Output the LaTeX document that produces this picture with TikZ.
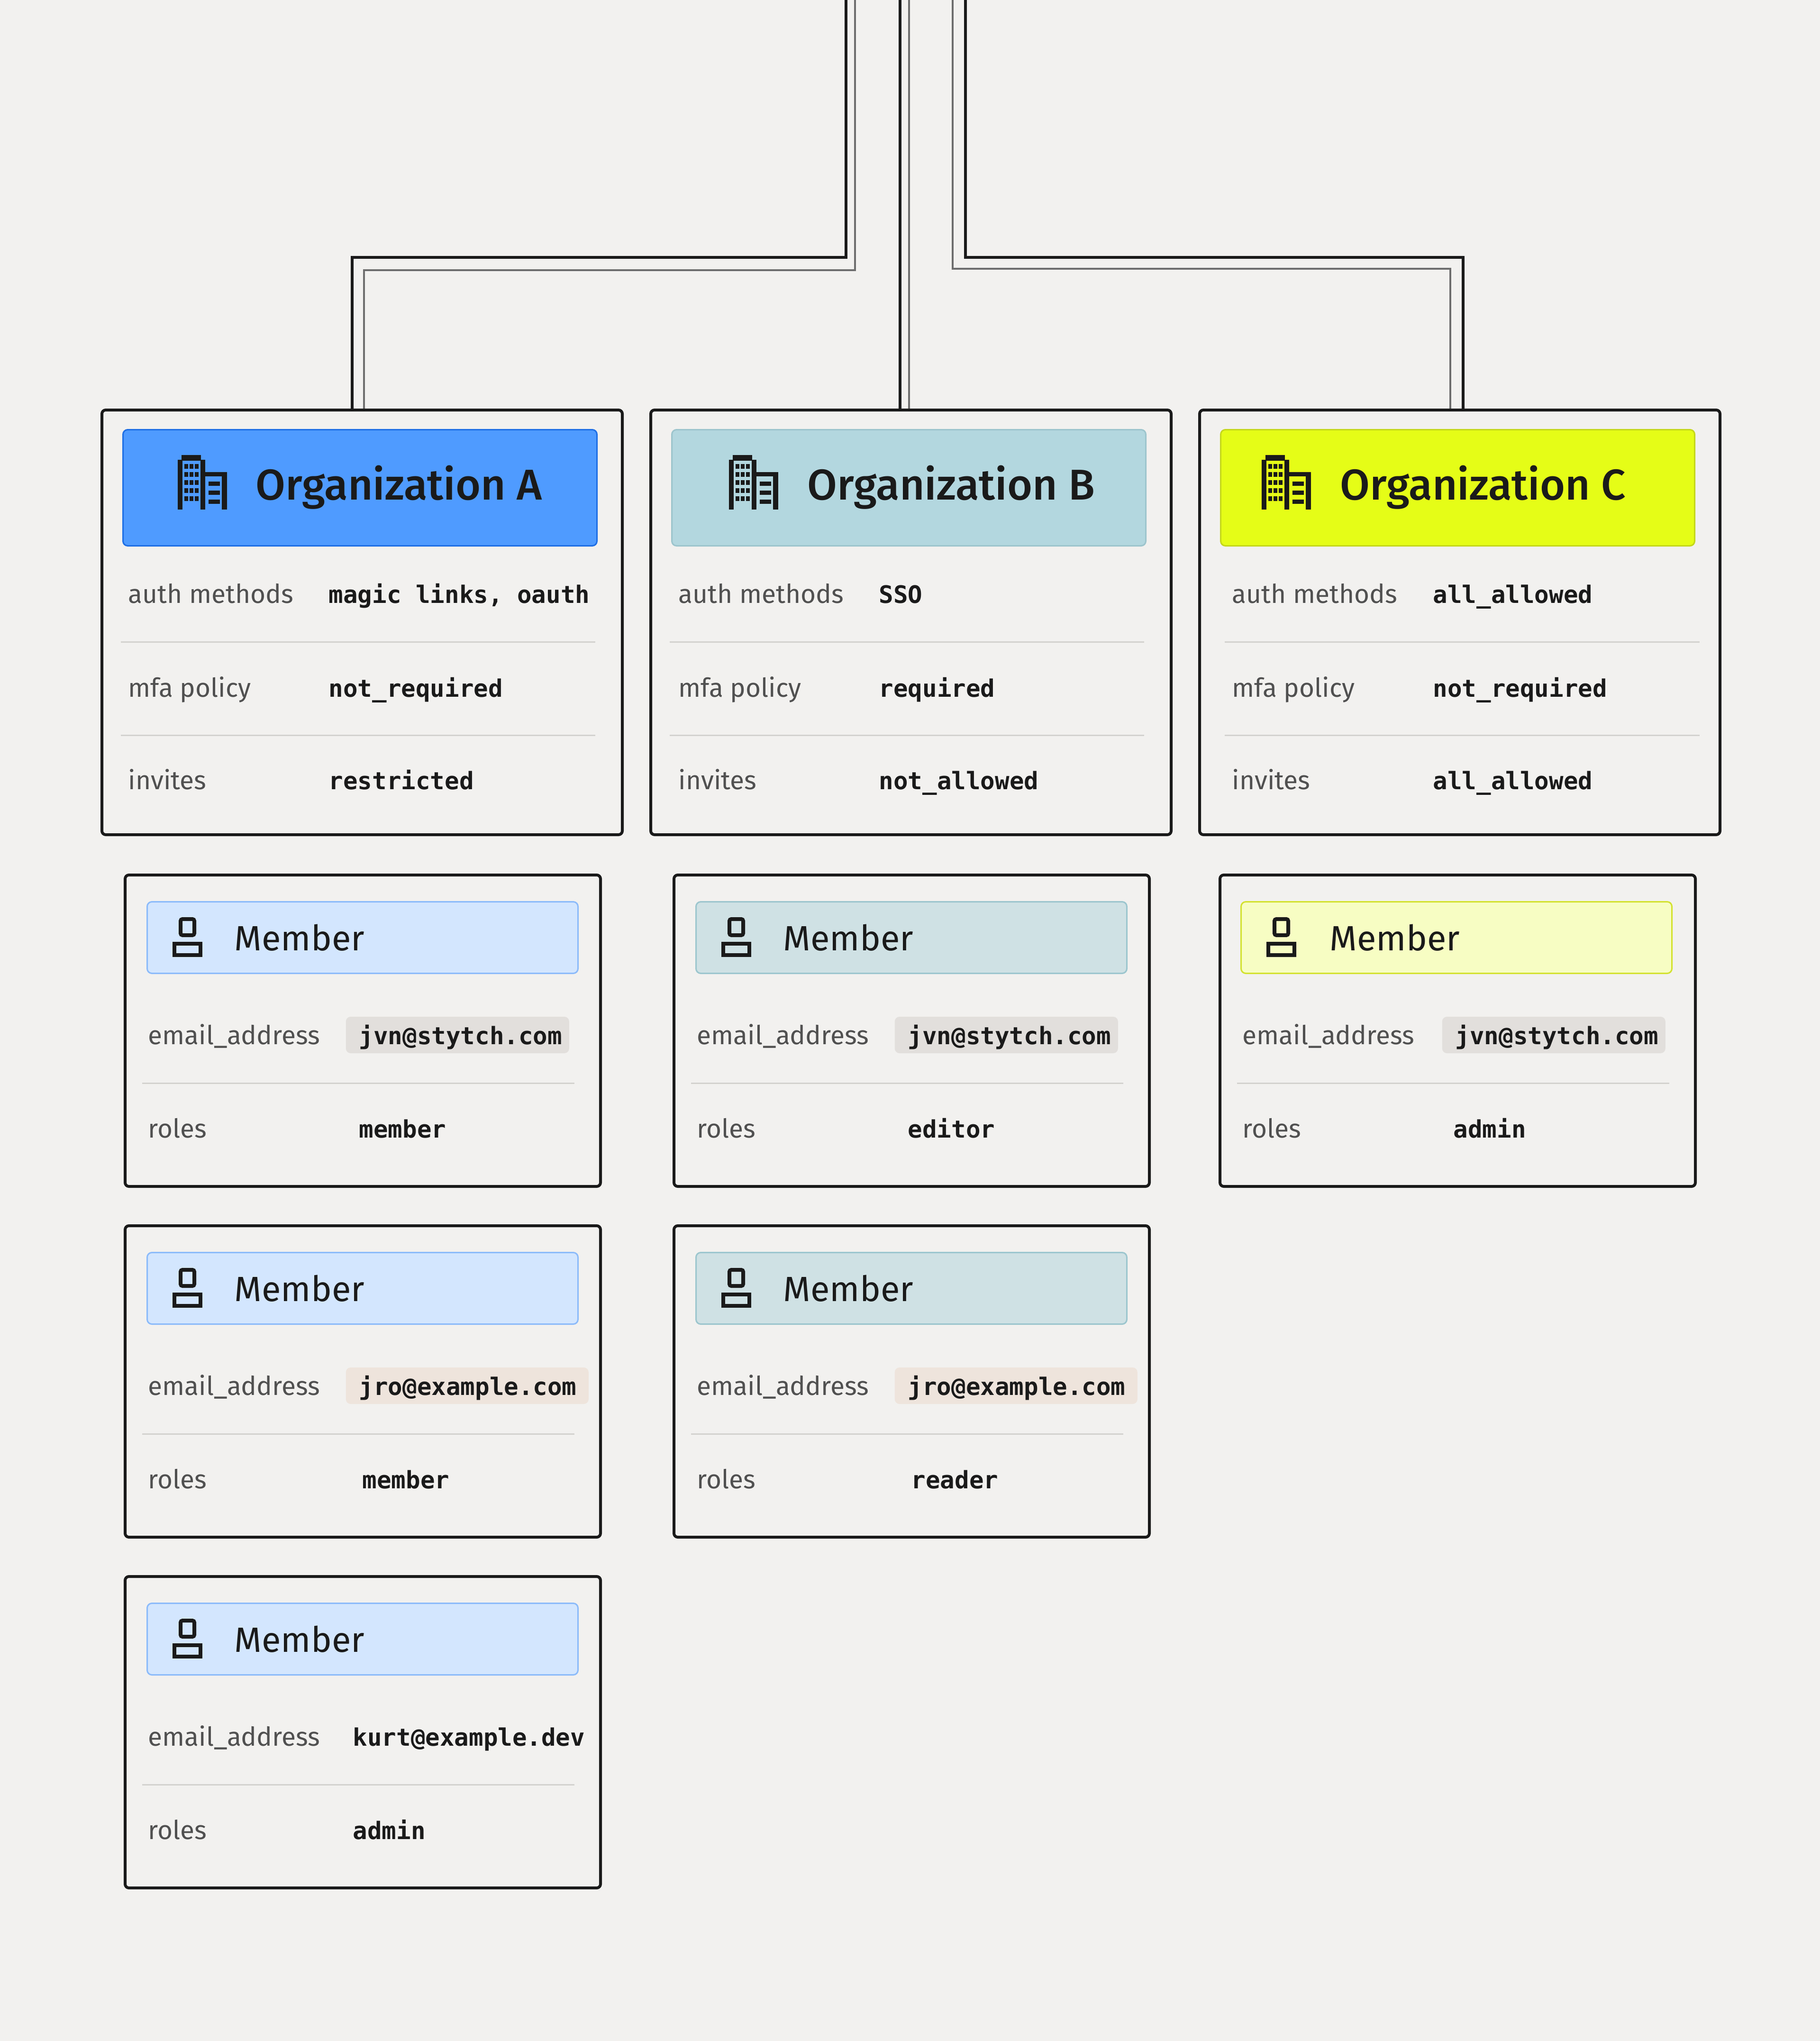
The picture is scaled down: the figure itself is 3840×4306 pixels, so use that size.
\documentclass[tikz,border=0pt]{standalone}
\usepackage{fontspec}
\setmainfont{Fira Sans}
\setmonofont{DejaVu Sans Mono}
\newfontfamily\headfont{Fira Sans Medium}
\usetikzlibrary{calc}

\definecolor{canvas}{HTML}{F2F1EF}
\definecolor{ink}{HTML}{1A1A1A}
\definecolor{keygray}{HTML}{505050}
\definecolor{rulegray}{HTML}{D3D2CF}
\definecolor{wiregray}{HTML}{6E6E6E}
\definecolor{orgblue}{HTML}{4F9BFF}
\definecolor{orgblueline}{HTML}{1F6FE5}
\definecolor{orgteal}{HTML}{B3D7DF}
\definecolor{orgtealline}{HTML}{9DC5CD}
\definecolor{orglime}{HTML}{E5FD17}
\definecolor{orglimeline}{HTML}{C5D81A}
\definecolor{memblue}{HTML}{D3E6FE}
\definecolor{memblueline}{HTML}{8CBBFA}
\definecolor{memteal}{HTML}{CFE1E4}
\definecolor{memtealline}{HTML}{9CC6CE}
\definecolor{memlime}{HTML}{F7FDC3}
\definecolor{memlimeline}{HTML}{D3E230}
\definecolor{mailgray}{HTML}{E2DFDC}
\definecolor{mailpink}{HTML}{EEE4DC}

\begin{document}
\begin{tikzpicture}[x=0.25pt, y=-0.25pt,
    card/.style={draw=ink, line width=1.5pt, rounded corners=2pt, fill=canvas, inner sep=0pt, anchor=north west},
    orgcard/.style={card, minimum width=274.5pt, minimum height=224pt},
    memcard/.style={card, minimum width=250.75pt, minimum height=164.25pt},
    orghead/.style={draw=#1line, fill=#1, line width=0.75pt, rounded corners=2.5pt, inner sep=0pt, anchor=north west, minimum width=250pt, minimum height=61.25pt},
    memhead/.style={draw=#1line, fill=#1, line width=0.75pt, rounded corners=2.5pt, inner sep=0pt, anchor=north west, minimum width=227.25pt, minimum height=37.75pt},
    title/.style={font=\headfont\fontsize{22.75}{26}\selectfont, text=ink, inner sep=0pt, anchor=base west},
    memtitle/.style={font=\fontsize{18.5}{22}\selectfont, text=ink, inner sep=0pt, anchor=base west},
    key/.style={font=\fontsize{13.75}{16}\selectfont, text=keygray, inner sep=0pt, anchor=base west},
    val/.style={font=\ttfamily\bfseries\fontsize{12.7}{15}\selectfont, text=ink, inner sep=0pt, anchor=base west},
    mailbox/.style={val, rounded corners=2.5pt, inner xsep=7pt, inner ysep=0pt, text height=14.5pt, text depth=4.75pt, align=left},
    rule/.style={draw=rulegray, line width=0.75pt},
    wireblk/.style={draw=ink, line width=1.5pt},
    wiregry/.style={draw=wiregray, line width=1pt},
    building/.pic={
      \fill[ink] (8,0) rectangle (49,12);
      \fill[ink] (0,10) rectangle (10,115);
      \fill[ink] (48,10) rectangle (58,115);
      \foreach \cx in {14,25,36} \foreach \cy in {19,36,53,70,87} \fill[ink] (\cx,\cy) rectangle ++(8,10);
      \fill[ink] (58,36) rectangle (104,45);
      \fill[ink] (93,36) rectangle (104,115);
      \foreach \cy in {56,75,94} \fill[ink] (65,\cy) rectangle ++(24,9);
    },
    person/.pic={
      \draw[ink, line width=2pt, rounded corners=1pt] (17,4) rectangle (46,38);
      \draw[ink, line width=2pt] (4,56) rectangle (59,80);
    }
  ]
  \fill[canvas] (0,0) rectangle (3840,4306);
  \useasboundingbox (0,0) rectangle (3840,4306);

  % organizations
  \node[orgcard] (orgA) at (212,862) {};
  \node[orghead=orgblue] (orgAhead) at (258,905) {};
  \pic at (375,960) {building};
  \node[title] (orgAname) at (539,1054) {Organization A};
  \node[key] (orgAauthK) at (270,1272) {auth methods};
  \node[val] (orgAauthV) at (693,1272) {magic links, oauth};
  \draw[rule] (255,1354) -- (1256,1354);
  \node[key] (orgAmfaK) at (270,1470) {mfa policy};
  \node[val] (orgAmfaV) at (693,1470) {not\_required};
  \draw[rule] (255,1551) -- (1256,1551);
  \node[key] (orgAinvK) at (270,1665) {invites};
  \node[val] (orgAinvV) at (693,1665) {restricted};

  \node[orgcard] (orgB) at (1370,862) {};
  \node[orghead=orgteal] (orgBhead) at (1416,905) {};
  \pic at (1538,960) {building};
  \node[title] (orgBname) at (1703,1054) {Organization B};
  \node[key] (orgBauthK) at (1431,1272) {auth methods};
  \node[val] (orgBauthV) at (1854,1272) {SSO};
  \draw[rule] (1413,1354) -- (2414,1354);
  \node[key] (orgBmfaK) at (1431,1470) {mfa policy};
  \node[val] (orgBmfaV) at (1854,1470) {required};
  \draw[rule] (1413,1551) -- (2414,1551);
  \node[key] (orgBinvK) at (1431,1665) {invites};
  \node[val] (orgBinvV) at (1854,1665) {not\_allowed};

  \node[orgcard] (orgC) at (2528,862) {};
  \node[orghead=orglime] (orgChead) at (2574,905) {};
  \pic at (2662,960) {building};
  \node[title] (orgCname) at (2827,1054) {Organization C};
  \node[key] (orgCauthK) at (2599,1272) {auth methods};
  \node[val] (orgCauthV) at (3023,1272) {all\_allowed};
  \draw[rule] (2584,1354) -- (3586,1354);
  \node[key] (orgCmfaK) at (2599,1470) {mfa policy};
  \node[val] (orgCmfaV) at (3023,1470) {not\_required};
  \draw[rule] (2584,1551) -- (3586,1551);
  \node[key] (orgCinvK) at (2599,1665) {invites};
  \node[val] (orgCinvV) at (3023,1665) {all\_allowed};

  % members of A
  \node[memcard] (memA1) at (261,1843) {};
  \node[memhead=memblue] (memA1head) at (309,1901) {};
  \pic at (364,1935) {person};
  \node[memtitle] (memA1name) at (494,2005) {Member};
  \node[key] (memA1mailK) at (312,2203) {email\_address};
  \node[mailbox, fill=mailgray, text width=103.75pt] (memA1mailV) at (729,2203) {jvn@stytch.com};
  \draw[rule] (300,2285) -- (1212,2285);
  \node[key] (memA1roleK) at (312,2400) {roles};
  \node[val] (memA1roleV) at (757,2400) {member};

  \node[memcard] (memA2) at (261,2583) {};
  \node[memhead=memblue] (memA2head) at (309,2641) {};
  \pic at (364,2675) {person};
  \node[memtitle] (memA2name) at (494,2745) {Member};
  \node[key] (memA2mailK) at (312,2943) {email\_address};
  \node[mailbox, fill=mailpink, text width=114pt] (memA2mailV) at (729,2943) {jro@example.com};
  \draw[rule] (300,3025) -- (1212,3025);
  \node[key] (memA2roleK) at (312,3140) {roles};
  \node[val] (memA2roleV) at (764,3140) {member};

  \node[memcard] (memA3) at (261,3323) {};
  \node[memhead=memblue] (memA3head) at (309,3381) {};
  \pic at (364,3415) {person};
  \node[memtitle] (memA3name) at (494,3485) {Member};
  \node[key] (memA3mailK) at (312,3683) {email\_address};
  \node[val] (memA3mailV) at (744,3683) {kurt@example.dev};
  \draw[rule] (300,3765) -- (1212,3765);
  \node[key] (memA3roleK) at (312,3880) {roles};
  \node[val] (memA3roleV) at (744,3880) {admin};

  % members of B
  \node[memcard] (memB1) at (1419,1843) {};
  \node[memhead=memteal] (memB1head) at (1467,1901) {};
  \pic at (1522,1935) {person};
  \node[memtitle] (memB1name) at (1652,2005) {Member};
  \node[key] (memB1mailK) at (1470,2203) {email\_address};
  \node[mailbox, fill=mailgray, text width=103.75pt] (memB1mailV) at (1887,2203) {jvn@stytch.com};
  \draw[rule] (1458,2285) -- (2370,2285);
  \node[key] (memB1roleK) at (1470,2400) {roles};
  \node[val] (memB1roleV) at (1915,2400) {editor};

  \node[memcard] (memB2) at (1419,2583) {};
  \node[memhead=memteal] (memB2head) at (1467,2641) {};
  \pic at (1522,2675) {person};
  \node[memtitle] (memB2name) at (1652,2745) {Member};
  \node[key] (memB2mailK) at (1470,2943) {email\_address};
  \node[mailbox, fill=mailpink, text width=114pt] (memB2mailV) at (1887,2943) {jro@example.com};
  \draw[rule] (1458,3025) -- (2370,3025);
  \node[key] (memB2roleK) at (1470,3140) {roles};
  \node[val] (memB2roleV) at (1922,3140) {reader};

  % members of C
  \node[memcard] (memC1) at (2571,1843) {};
  \node[memhead=memlime] (memC1head) at (2617,1901) {};
  \pic at (2672,1935) {person};
  \node[memtitle] (memC1name) at (2805,2005) {Member};
  \node[key] (memC1mailK) at (2621,2203) {email\_address};
  \node[mailbox, fill=mailgray, text width=103.75pt] (memC1mailV) at (3042,2203) {jvn@stytch.com};
  \draw[rule] (2610,2285) -- (3522,2285);
  \node[key] (memC1roleK) at (2621,2400) {roles};
  \node[val] (memC1roleV) at (3066,2400) {admin};

  % wires from above
  \coordinate (srcA) at (1785,0);
  \coordinate (srcAi) at (1804,0);
  \coordinate (srcB) at (1899,0);
  \coordinate (srcBi) at (1918,0);
  \coordinate (srcC) at (2037,0);
  \coordinate (srcCi) at (2010,0);
  \draw[wireblk] (srcA) -- (srcA |- 0,543) -| ($(orgA.north)+(-21,0)$);
  \draw[wiregry] (srcAi) -- (srcAi |- 0,570) -| ($(orgA.north)+(4,0)$);
  \draw[wireblk] (srcB) -- (srcB |- orgB.north);
  \draw[wiregry] (srcBi) -- (srcBi |- orgB.north);
  \draw[wireblk] (srcC) -- (srcC |- 0,543) -| ($(orgC.north)+(7,0)$);
  \draw[wiregry] (srcCi) -- (srcCi |- 0,567) -| ($(orgC.north)+(-20,0)$);
\end{tikzpicture}
\end{document}
